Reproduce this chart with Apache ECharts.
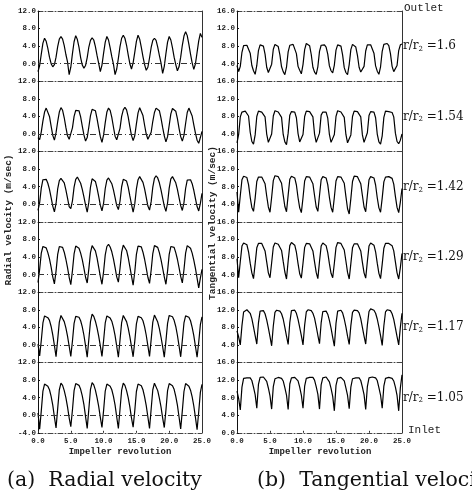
<!DOCTYPE html>
<html>
<head>
<meta charset="utf-8">
<script src="https://cdn.jsdelivr.net/npm/echarts@6/dist/echarts.min.js"></script>
<style>
html, body { margin: 0; padding: 0; background: #fff; }
#main { width: 472px; height: 498px; }
</style>
</head>
<body>
<div id="main"></div>
<script>
// sampling step along the x axis (impeller revolutions)
var STEP = 0.25;

// radial velocity (m/sec), one array per radius ratio
var radial16 = [
  -1.8, -0.4, 2.2, 4.7, 5.8, 5.1, 3.5, 1.5, 0.0,
  -0.7, -0.2, 1.5, 3.9, 5.6, 6.2, 5.6, 4.1, 2.1, 0.4,
  -2.5, -0.8, 2.3, 5.0, 6.4, 5.5, 3.7, 1.4, -0.3,
  -1.0, -0.4, 1.4, 3.8, 5.3, 5.9, 5.4, 3.9, 1.9, 0.1,
  -1.8, -0.3, 2.4, 4.9, 6.2, 5.4, 3.6, 1.6, -0.1,
  -2.5, -1.2, 1.2, 3.9, 5.8, 6.5, 5.8, 4.2, 2.0, 0.0,
  -1.2, 0.2, 2.6, 5.1, 6.5, 5.6, 3.7, 1.6, -0.2,
  -1.5, -0.8, 1.3, 3.7, 5.3, 5.8, 5.3, 3.8, 1.9, 0.2,
  -2.2, -0.6, 2.3, 4.9, 6.2, 5.4, 3.6, 1.5, -0.2,
  -1.6, -0.7, 1.5, 4.2, 6.3, 7.3, 6.4, 4.4, 2.2, 0.2,
  -1.3, 0.0, 2.6, 5.2, 6.9, 6.0
];
var radial154 = [
  -0.8, -1.3, 0.5, 3.0, 5.0, 5.9, 5.5, 4.0, 1.8, -0.3,
  -1.4, 0.3, 2.8, 5.0, 6.0, 5.4, 3.7, 1.5, -0.4, -1.2,
  -0.9, 1.4, 4.0, 5.4, 5.8, 5.3, 3.9, 1.8, -0.2, -1.6,
  -0.8, 1.6, 4.2, 5.6, 6.0, 5.3, 3.5, 1.4, -0.6, -1.9,
  -0.2, 2.6, 5.0, 5.9, 5.4, 3.8, 1.6, -0.5, -1.3, -0.9,
  1.3, 4.0, 5.5, 6.1, 5.5, 3.9, 1.7, -0.3, -1.5,
  -0.4, 2.3, 4.8, 6.0, 5.6, 4.2, 2.0, 0.0, -1.2, -1.3,
  0.4, 2.9, 4.9, 5.9, 6.2, 5.3, 3.6, 1.5, -0.4, -1.8,
  -0.6, 2.0, 4.6, 5.8, 6.0, 5.2, 3.5, 1.3, -0.6, -1.6,
  -0.3, 2.4, 4.9, 5.9, 5.6, 4.1, 2.1, 0.2, -1.4, -2.1,
  -0.8, 0.6
];
var radial142 = [
  -1.4, 0.4, 3.7, 5.6, 6.0, 5.7, 4.8, 3.4, 1.5, -0.4,
  -1.7, 0.2, 3.5, 5.4, 5.9, 5.6, 4.9, 3.3, 1.4, -0.5,
  -1.0, 0.8, 3.9, 5.7, 6.2, 5.8, 4.8, 3.4, 1.7, -0.2,
  -1.8, 0.5, 3.9, 5.8, 6.1, 5.2, 3.7, 1.8, -0.2,
  -1.5, 0.3, 3.6, 5.5, 6.0, 5.6, 4.7, 3.3, 1.5, -0.3,
  -1.2, 0.7, 4.0, 5.7, 6.0, 5.3, 3.9, 1.9, 0.0,
  -1.8, 0.1, 3.5, 5.6, 6.3, 5.9, 5.0, 3.5, 1.6, -0.4,
  -1.3, 0.6, 3.9, 5.9, 6.5, 6.0, 4.9, 3.3, 1.4, -0.4,
  -1.6, 0.3, 3.7, 5.8, 6.3, 6.0, 4.9, 3.4, 1.5, -0.3,
  -1.4, 0.4, 3.6, 5.5, 5.9, 5.6, 4.7, 3.2, 1.3, -0.5,
  -1.5, 0.2, 2.5
];
var radial129 = [
  -1.8, 1.2, 4.9, 6.4, 6.6, 6.1, 5.0, 3.6, 1.7, -0.5,
  -2.1, 0.8, 4.6, 6.4, 6.8, 6.2, 5.1, 3.5, 1.6, -0.6,
  -2.3, 0.9, 4.7, 6.5, 6.7, 6.0, 4.9, 3.4, 1.5, -0.6,
  -1.9, 1.3, 5.0, 6.6, 6.5, 5.4, 3.8, 1.7, -0.4,
  -2.2, 0.7, 4.5, 6.4, 6.9, 6.3, 5.2, 3.6, 1.6, -0.5,
  -1.7, 1.4, 5.1, 6.7, 6.6, 5.5, 3.9, 1.8, -0.3,
  -2.4, 0.6, 4.6, 6.5, 6.8, 6.3, 5.1, 3.5, 1.5, -0.6,
  -2.0, 1.0, 4.8, 6.6, 6.8, 6.2, 5.0, 3.4, 1.5, -0.5,
  -2.2, 0.8, 4.6, 6.4, 6.7, 6.2, 5.0, 3.5, 1.6, -0.4,
  -1.9, 1.1, 4.9, 6.6, 6.7, 6.0, 4.9, 3.3, 1.4, -0.8,
  -3.0, -0.8, 1.2
];
var radial117 = [
  0.2,
  -2.5, 1.0, 5.0, 6.6, 6.7, 6.2, 5.6, 4.2, 2.3, -0.1,
  -2.7, 1.2, 5.2, 6.7, 6.3, 5.3, 3.9, 2.0, -0.3,
  -2.6, 0.9, 4.9, 6.5, 6.8, 6.3, 5.5, 4.1, 2.2, -0.2,
  -2.8, 1.3, 5.3, 7.0, 6.5, 5.4, 3.9, 2.0, -0.2,
  -2.6, 1.0, 5.0, 6.6, 6.7, 6.1, 5.4, 4.0, 2.1, -0.3,
  -2.8, 1.1, 5.1, 6.7, 6.4, 5.3, 3.8, 1.9, -0.4,
  -2.7, 0.8, 4.8, 6.5, 6.7, 6.2, 5.5, 4.1, 2.2, -0.2,
  -2.6, 1.2, 5.2, 6.8, 6.4, 5.2, 3.7, 1.8, -0.4,
  -2.8, 0.9, 4.9, 6.7, 7.0, 6.4, 5.6, 4.2, 2.2, -0.2,
  -2.7, 1.0, 5.0, 6.6, 6.8, 6.3, 5.5, 4.0, 2.1, -0.3,
  -2.8, 0.6, 4.6, 6.4
];
var radial105 = [
  0.5,
  -3.2, 1.0, 5.5, 7.1, 7.2, 6.6, 5.8, 4.3, 2.3, -0.4,
  -2.9, 1.5, 5.8, 7.3, 6.8, 5.6, 4.0, 1.9, -0.6,
  -2.6, 1.2, 5.6, 7.2, 7.4, 6.8, 5.9, 4.4, 2.4, -0.3,
  -3.0, 1.4, 5.9, 7.4, 6.9, 5.7, 4.0, 2.0, -0.5,
  -2.8, 1.1, 5.5, 7.1, 7.3, 6.6, 5.8, 4.3, 2.3, -0.4,
  -3.0, 1.3, 5.7, 7.3, 6.8, 5.6, 4.0, 1.9, -0.6,
  -2.7, 1.0, 5.4, 7.1, 7.3, 6.7, 5.8, 4.2, 2.2, -0.4,
  -3.0, 1.4, 5.8, 7.3, 6.9, 5.6, 3.9, 1.9, -0.6,
  -2.8, 1.1, 5.6, 7.2, 7.4, 6.7, 5.9, 4.3, 2.3, -0.4,
  -3.1, 1.0, 5.4, 7.2, 7.3, 6.6, 5.7, 4.2, 2.1, -0.5,
  -3.3, 0.8, 5.2, 7.0
];

// tangential velocity (m/sec)
var tang16 = [
  3.6,
  2.2, 3.4, 6.6, 8.1, 8.4, 8.2, 7.9, 6.4, 3.6, 2.4,
  1.6, 3.6, 7.0, 8.3, 8.5, 8.0, 6.2, 3.2, 2.0,
  1.8, 3.9, 7.3, 8.4, 8.3, 7.9, 6.0, 3.3, 2.2,
  1.5, 3.2, 6.7, 8.2, 8.6, 8.4, 8.0, 6.3, 3.4, 2.5,
  1.7, 3.8, 7.2, 8.6, 8.4, 8.1, 6.1, 3.2, 2.1,
  1.6, 3.3, 6.8, 8.2, 8.4, 8.3, 7.8, 6.2, 3.5, 2.4,
  1.9, 3.7, 7.1, 8.3, 8.5, 8.0, 6.0, 3.1, 2.0,
  1.5, 3.8, 7.2, 8.4, 8.2, 7.8, 5.9, 3.2, 2.1,
  1.7, 3.4, 6.9, 8.3, 8.5, 8.3, 7.9, 6.4, 3.5, 2.3,
  1.6, 3.3, 6.8, 8.4, 8.8, 8.6, 8.1, 6.3, 3.4, 2.2,
  1.8, 3.6, 7.0, 8.3, 8.5
];
var tang154 = [
  2.0, 3.9, 7.9, 9.0, 9.1, 9.2, 9.0, 8.1, 4.4, 2.3,
  1.7, 3.8, 8.0, 9.2, 9.1, 9.0, 9.0, 7.9, 4.0, 2.1,
  2.1, 4.0, 8.1, 9.3, 9.2, 9.0, 8.9, 7.8, 3.9, 2.2,
  1.6, 4.2, 8.3, 9.1, 9.3, 9.0, 7.7, 4.1, 2.2,
  1.9, 3.9, 8.0, 9.2, 9.2, 9.1, 9.0, 7.9, 4.0, 2.1,
  1.7, 4.2, 8.3, 9.0, 9.2, 9.0, 7.6, 3.9, 2.1,
  1.8, 3.9, 8.0, 9.3, 9.2, 9.0, 8.9, 7.8, 3.9, 2.0,
  1.6, 3.8, 8.0, 9.2, 9.3, 9.1, 9.0, 7.9, 3.8, 2.1,
  1.9, 4.3, 8.2, 9.1, 9.2, 9.0, 7.7, 4.0, 2.2,
  1.7, 3.6, 7.8, 9.2, 9.3, 9.1, 9.0, 8.9, 7.9, 4.2, 2.3,
  1.8, 2.6, 4.0
];
var tang142 = [
  6.8,
  2.2, 6.0, 9.6, 10.4, 10.3, 10.1, 8.5, 5.6, 3.3,
  2.4, 5.4, 9.2, 10.2, 10.4, 10.2, 10.0, 8.7, 5.9, 3.4,
  2.2, 5.6, 9.4, 10.5, 10.6, 10.3, 10.0, 8.8, 6.1, 3.5,
  2.3, 6.1, 9.7, 10.4, 10.3, 10.0, 8.4, 5.5, 3.2,
  2.1, 5.5, 9.3, 10.3, 10.4, 10.2, 9.9, 8.7, 6.0, 3.4,
  2.4, 6.0, 9.6, 10.3, 10.2, 10.0, 8.5, 5.6, 3.3,
  2.2, 5.6, 9.3, 10.3, 10.4, 10.2, 10.0, 8.8, 5.8, 3.0,
  1.8, 5.3, 9.2, 10.4, 10.6, 10.3, 10.0, 8.7, 6.0, 3.4,
  2.3, 6.0, 9.6, 10.3, 10.2, 10.0, 8.4, 5.5, 3.2,
  2.2, 5.4, 9.1, 10.2, 10.4, 10.3, 10.1, 9.9, 8.6, 5.8, 3.3,
  2.1, 4.5, 7.6
];
var tang129 = [
  7.6,
  3.3, 7.0, 10.5, 11.2, 11.1, 10.8, 9.2, 6.6, 4.4,
  3.1, 6.5, 10.1, 11.1, 11.3, 11.1, 10.7, 9.4, 6.9, 4.4,
  3.3, 6.7, 10.3, 11.2, 11.2, 10.9, 10.6, 9.5, 7.0, 4.6,
  3.0, 7.1, 10.6, 11.3, 11.0, 10.7, 9.1, 6.5, 4.2,
  3.2, 6.6, 10.2, 11.1, 11.3, 11.0, 10.7, 9.4, 6.9, 4.5,
  3.1, 7.0, 10.5, 11.2, 11.0, 10.6, 9.0, 6.5, 4.3,
  3.3, 6.6, 10.2, 11.3, 11.4, 11.1, 10.8, 9.6, 7.1, 4.5,
  3.0, 6.5, 10.1, 11.0, 11.2, 11.0, 10.6, 9.4, 6.8, 4.4,
  3.2, 7.0, 10.5, 11.2, 11.1, 10.7, 9.2, 6.6, 4.3,
  3.1, 6.4, 10.0, 11.1, 11.3, 11.1, 10.9, 10.6, 9.4, 6.9, 4.4,
  3.0, 5.6, 8.8
];
var tang117 = [
  7.2, 5.8,
  4.0, 8.4, 11.5, 11.9, 12.0, 11.8, 11.2, 10.0, 8.1, 6.1,
  4.2, 9.0, 11.7, 12.1, 11.8, 11.1, 9.7, 7.9, 5.9,
  3.8, 8.3, 11.4, 11.9, 12.0, 11.7, 11.1, 9.9, 8.0, 6.0,
  4.1, 9.1, 11.8, 12.1, 11.9, 11.2, 9.8, 8.0, 6.1,
  4.0, 8.5, 11.5, 12.0, 12.1, 11.8, 11.2, 10.1, 8.2, 6.2,
  4.3, 9.0, 11.6, 11.9, 11.7, 11.0, 9.6, 7.8, 5.7,
  3.7, 8.9, 11.7, 12.1, 11.9, 11.3, 9.9, 8.1, 6.0,
  4.1, 8.4, 11.4, 11.9, 12.0, 11.8, 11.3, 10.0, 8.0, 6.0,
  4.2, 8.5, 11.6, 12.2, 12.3, 11.9, 11.2, 9.9, 8.1, 6.1,
  3.9, 8.3, 11.5, 12.0, 12.1, 11.8, 11.1, 9.8, 7.9, 5.9,
  4.0, 8.0, 11.2
];
var tang105 = [
  9.5, 7.8,
  5.2, 10.4, 12.4, 12.6, 12.5, 12.7, 12.5, 11.9, 10.4, 8.7,
  5.6, 11.0, 12.6, 12.5, 12.7, 12.3, 11.7, 10.2, 8.4,
  5.4, 10.5, 12.3, 12.6, 12.6, 12.8, 12.4, 11.8, 10.3, 8.6,
  5.3, 11.1, 12.5, 12.7, 12.6, 12.4, 11.8, 10.4, 8.6,
  5.6, 10.6, 12.4, 12.5, 12.6, 12.8, 12.6, 12.0, 10.5, 8.8,
  5.4, 10.9, 12.5, 12.6, 12.7, 12.3, 11.6, 10.1, 8.3,
  5.0, 10.8, 12.4, 12.7, 12.6, 12.4, 11.8, 10.2, 8.5,
  5.5, 10.4, 12.3, 12.6, 12.5, 12.7, 12.5, 11.9, 10.4, 8.7,
  5.3, 10.5, 12.5, 12.8, 12.7, 12.9, 12.5, 11.9, 10.3, 8.6,
  5.6, 10.6, 12.4, 12.6, 12.6, 12.7, 12.4, 11.8, 10.4, 8.5,
  5.0, 10.2, 13.2
];

var radialList = [radial16, radial154, radial142, radial129, radial117, radial105];
var tangList = [tang16, tang154, tang142, tang129, tang117, tang105];
var ratioLabels = ['1.6', '1.54', '1.42', '1.29', '1.17', '1.05'];

var PANEL_TOP = 11;
var PANEL_H = 70.3;
var TICK_FONT = 'Liberation Mono';

var grids = [], xAxes = [], yAxes = [], series = [];
var dashDot = [5, 2, 1, 2];

function addPanel(col, row, values, yMin, yMax) {
  var isBottom = row === 5;
  var gi = grids.length;
  grids.push({
    left: col === 0 ? 38 : 237,
    width: col === 0 ? 164 : 165,
    top: PANEL_TOP + row * PANEL_H,
    height: PANEL_H
  });

  var xi = xAxes.length;
  xAxes.push({
    gridIndex: gi, type: 'value', min: 0, max: 25, interval: 5,
    axisLine: { show: true, onZero: false, lineStyle: { color: '#444', width: 1, type: dashDot } },
    axisTick: { show: isBottom, inside: true, length: 2, lineStyle: { color: '#333' } },
    axisLabel: {
      show: isBottom, margin: 4, color: '#222', fontFamily: TICK_FONT, fontSize: 7.5, fontWeight: 'bold',
      formatter: function (v) { return v.toFixed(1); }
    },
    splitLine: { show: false }
  });
  if (row === 0) {
    xAxes.push({
      gridIndex: gi, type: 'value', position: 'top', min: 0, max: 25,
      axisLine: { show: true, onZero: false, lineStyle: { color: '#444', width: 1, type: dashDot } },
      axisTick: { show: false }, axisLabel: { show: false }, splitLine: { show: false }
    });
  }

  var yi = yAxes.length;
  yAxes.push({
    gridIndex: gi, type: 'value', min: yMin, max: yMax, interval: 4,
    axisLine: { show: true, onZero: false, lineStyle: { color: '#111', width: 1 } },
    axisTick: { show: true, inside: true, length: 2, lineStyle: { color: '#111' } },
    axisLabel: {
      margin: 2, color: '#222', fontFamily: TICK_FONT, fontSize: 7.5, fontWeight: 'bold',
      formatter: function (v) {
        if (v === yMin && !isBottom) return '';
        return v.toFixed(1);
      }
    },
    splitLine: { show: false }
  });
  yAxes.push({
    gridIndex: gi, type: 'value', position: 'right', min: yMin, max: yMax,
    axisLine: { show: true, onZero: false, lineStyle: { color: '#333', width: 1 } },
    axisTick: { show: false }, axisLabel: { show: false }, splitLine: { show: false }
  });

  var s = {
    type: 'line', xAxisIndex: xi, yAxisIndex: yi,
    data: values.map(function (v, i) { return [i * STEP, v]; }),
    showSymbol: false, silent: true,
    lineStyle: { color: '#000', width: 1.2 }
  };
  if (col === 0) {
    s.markLine = {
      silent: true, symbol: 'none', label: { show: false },
      lineStyle: { color: '#333', width: 1, type: [6, 3, 1, 3] },
      data: [{ yAxis: 0 }]
    };
  }
  series.push(s);
}

for (var r = 0; r < 6; r++) {
  addPanel(0, r, radialList[r], -4, 12);
}
for (var r2 = 0; r2 < 6; r2++) {
  addPanel(1, r2, tangList[r2], 0, 16);
}

var graphics = [
  {
    type: 'text', x: 9, y: 220, rotation: Math.PI / 2,
    style: { text: 'Radial velocity (m/sec)', align: 'center', verticalAlign: 'middle',
      font: 'bold 9.5px "Liberation Mono"', fill: '#222' }
  },
  {
    type: 'text', x: 213, y: 223, rotation: Math.PI / 2,
    style: { text: 'Tangential velocity (m/sec)', align: 'center', verticalAlign: 'middle',
      font: 'bold 9.5px "Liberation Mono"', fill: '#222' }
  },
  {
    type: 'text', x: 120, y: 452,
    style: { text: 'Impeller revolution', align: 'center', verticalAlign: 'middle',
      font: 'bold 9px "Liberation Mono"', fill: '#222' }
  },
  {
    type: 'text', x: 320, y: 452,
    style: { text: 'Impeller revolution', align: 'center', verticalAlign: 'middle',
      font: 'bold 9px "Liberation Mono"', fill: '#222' }
  },
  {
    type: 'text', x: 404, y: 8,
    style: { text: 'Outlet', align: 'left', verticalAlign: 'middle',
      font: '11px "Liberation Mono"', fill: '#222' }
  },
  {
    type: 'text', x: 408, y: 430,
    style: { text: 'Inlet', align: 'left', verticalAlign: 'middle',
      font: '11px "Liberation Mono"', fill: '#222' }
  },
  {
    type: 'text', x: 7, y: 481,
    style: { text: '(a)  Radial velocity', align: 'left', verticalAlign: 'middle',
      font: '20.5px "DejaVu Serif"', fill: '#111' }
  },
  {
    type: 'text', x: 257, y: 481,
    style: { text: '(b)  Tangential velocity', align: 'left', verticalAlign: 'middle',
      font: '20.5px "DejaVu Serif"', fill: '#111' }
  }
];

ratioLabels.forEach(function (lab, i) {
  graphics.push({
    type: 'text', x: 403, y: PANEL_TOP + i * PANEL_H + PANEL_H / 2,
    style: {
      text: '{a|r/r}{s|2}{a| =' + lab + '}',
      align: 'left', verticalAlign: 'middle',
      rich: {
        a: { fontFamily: 'DejaVu Serif', fontSize: 12, fill: '#111' },
        s: { fontFamily: 'DejaVu Serif', fontSize: 7, fill: '#111', padding: [6, 0, 0, 0] }
      }
    }
  });
});

var chart = echarts.init(document.getElementById('main'), null, { renderer: 'canvas' });
chart.setOption({
  animation: false,
  backgroundColor: '#fff',
  grid: grids,
  xAxis: xAxes,
  yAxis: yAxes,
  series: series,
  graphic: graphics
});
</script>
</body>
</html>
